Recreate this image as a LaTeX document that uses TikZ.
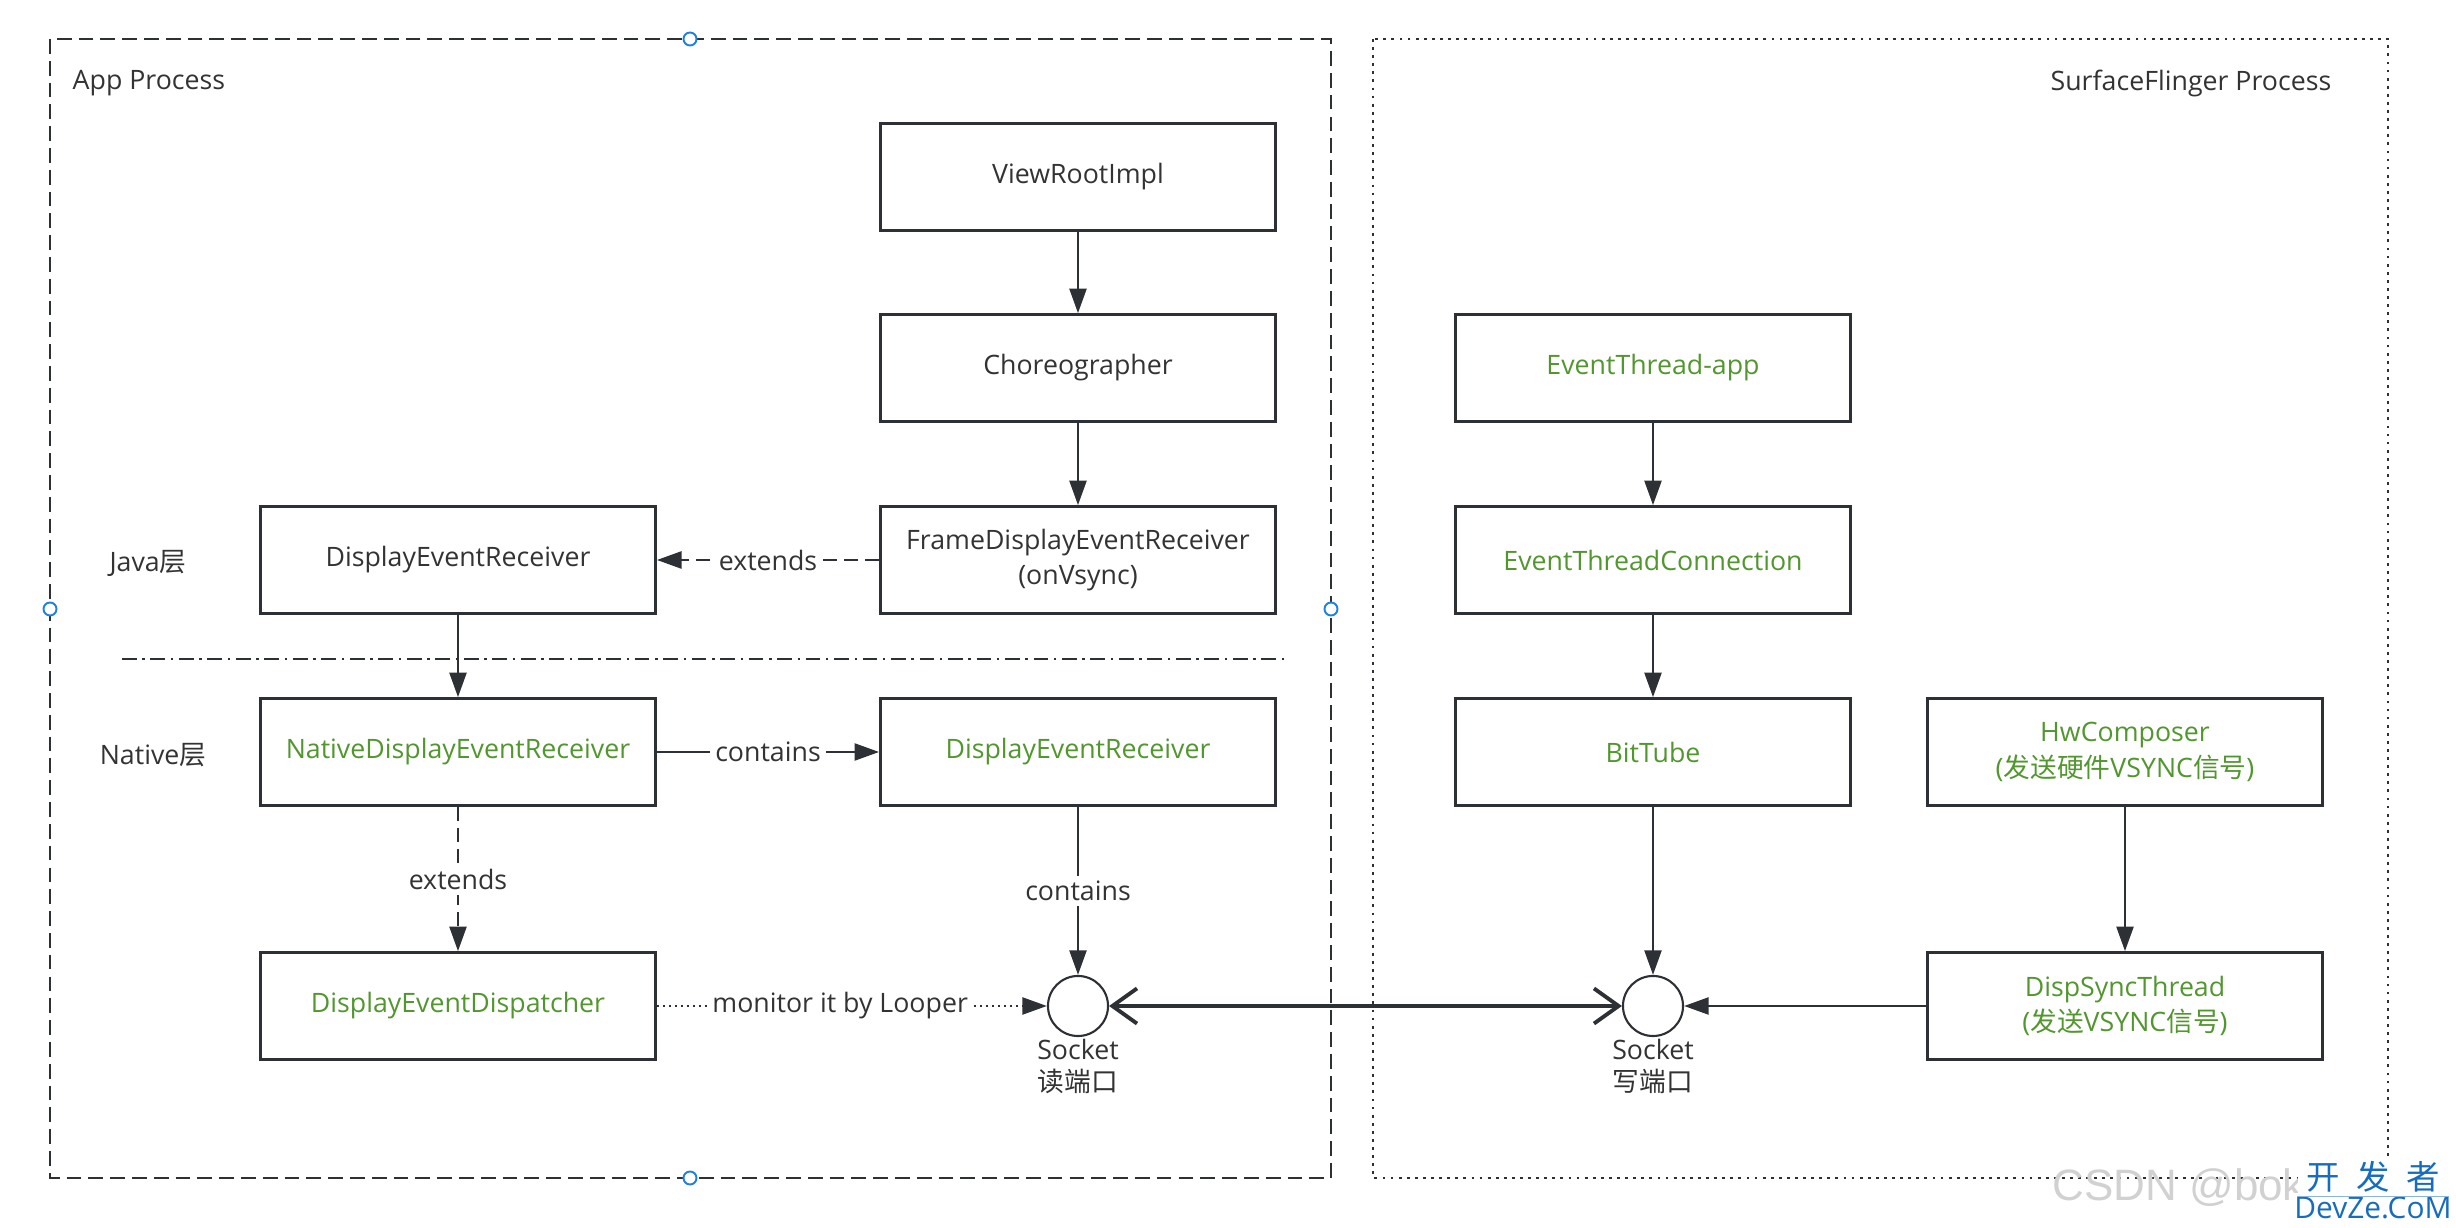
\documentclass[tikz,border=0pt]{standalone}
\usepackage{fontspec}
\setmainfont{Open Sans}
\newfontfamily\cjk{Noto Sans CJK SC}
\newfontfamily\wmfont{Liberation Sans}
\usepackage{xcolor}
\usetikzlibrary{arrows.meta}
\definecolor{txtgray}{RGB}{51,51,51}
\definecolor{nodegreen}{RGB}{82,150,46}
\definecolor{linegray}{RGB}{45,48,52}
\definecolor{handleblue}{RGB}{30,128,230}
\definecolor{markblue}{RGB}{22,108,190}

\begin{document}
\begin{tikzpicture}[x=0.01cm,y=-0.01cm,font=\fontsize{7.6}{10}\selectfont,text=txtgray,
  every node/.style={inner sep=0pt},
  cls/.style={draw=linegray,line width=0.72pt,minimum width=3.95cm,minimum height=1.07cm,align=center},
  gr/.style={text=nodegreen},
  sock/.style={circle,draw=linegray,line width=0.6pt,minimum size=0.6cm},
  arr/.style={draw=linegray,line width=0.8pt,-{Triangle[length=7pt,width=4.8pt]}},
  ext/.style={dash pattern=on 4pt off 2pt},
  mon/.style={dash pattern=on 0.7pt off 1pt},
  pipe/.style={draw=linegray,line width=1.1pt,{Straight Barb[length=7pt,width=10pt]}-{Straight Barb[length=7pt,width=10pt]}},
  lbl/.style={fill=white,inner sep=1.5pt},
  handle/.style={circle,draw=handleblue,fill=white,line width=0.55pt,minimum size=0.13cm},
  wmark/.style={fill=white,text=markblue,inner sep=1pt}]
\useasboundingbox (0,0) rectangle (2456,1228);
\draw [linegray,line width=0.8pt,dash pattern=on 4.2pt off 2pt] (50,39) rectangle (1331,1178);
\draw [linegray,line width=0.8pt,dash pattern=on 0.8pt off 1.5pt] (1373,39) rectangle (2388,1178);
\node [anchor=west] (applbl) at (72,83) {App Process};
\node [anchor=east] (sflbl) at (2332,83) {SurfaceFlinger Process};
\node (javalbl) at (148,563) {Java{\cjk 层}};
\node (nativelbl) at (153,755) {Native{\cjk 层}};
\draw [linegray,line width=0.8pt,dash pattern=on 4.2pt off 1.6pt on 0.7pt off 1.6pt] (122,659) -- (1285,659);
\node [cls] (vri) at (1078,177) {ViewRootImpl};
\node [cls] (chor) at (1078,368) {Choreographer};
\node [cls] (fder) at (1078,560) {FrameDisplayEventReceiver\\(onVsync)};
\node [cls] (jder) at (458,560) {DisplayEventReceiver};
\node [cls,gr] (nder) at (458,752) {NativeDisplayEventReceiver};
\node [cls,gr] (cder) at (1078,752) {DisplayEventReceiver};
\node [cls,gr] (ded) at (458,1006) {DisplayEventDispatcher};
\node [sock] (rsock) at (1078,1006) {};
\node [below=0.5pt,align=center] (rsocklbl) at (rsock.south) {Socket\\[-1pt]{\cjk 读端口}};
\node [cls,gr] (eta) at (1653,368) {EventThread-app};
\node [cls,gr] (etc) at (1653,560) {EventThreadConnection};
\node [cls,gr] (bt) at (1653,752) {BitTube};
\node [cls,gr] (hwc) at (2125,752) {HwComposer\\({\cjk 发送硬件}VSYNC{\cjk 信号})};
\node [cls,gr] (dst) at (2125,1006) {DispSyncThread\\({\cjk 发送}VSYNC{\cjk 信号})};
\node [sock] (wsock) at (1653,1006) {};
\node [below=0.5pt,align=center] (wsocklbl) at (wsock.south) {Socket\\[-1pt]{\cjk 写端口}};
\draw [arr] (vri) -- (chor);
\draw [arr] (chor) -- (fder);
\draw [arr,ext] (fder) -- node [lbl] {extends} (jder);
\draw [arr] (jder) -- (nder);
\draw [arr] (nder) -- node [lbl] {contains} (cder);
\draw [arr,ext] (nder) -- node [lbl] {extends} (ded);
\draw [arr] (cder) -- node [lbl] {contains} (rsock);
\draw [arr,mon] (ded) -- node [lbl,pos=0.47] {monitor it by Looper} (rsock);
\draw [pipe] (rsock) -- (wsock);
\draw [arr] (eta) -- (etc);
\draw [arr] (etc) -- (bt);
\draw [arr] (bt) -- (wsock);
\draw [arr] (hwc) -- (dst);
\draw [arr] (dst) -- (wsock);
\node [handle] (htop) at (690,39) {};
\node [handle] (hleft) at (50,609) {};
\node [handle] (hright) at (1331,609) {};
\node [handle] (hbottom) at (690,1178) {};
\node [anchor=west,text=black!18,font=\wmfont\fontsize{12.5}{12.5}\selectfont] (wmcsdn) at (2052,1188) {CSDN @bok};
\node [wmark,minimum width=1.5cm,minimum height=0.34cm,font=\cjk\fontsize{9.5}{10}\selectfont] (wmcn) at (2373,1177) {开\enspace 发\enspace 者};
\node [wmark,minimum width=1.5cm,font=\fontsize{8.5}{9}\selectfont] (wmsite) at (2373,1208) {DevZe.CoM};
\draw [markblue!50,line width=0.3pt] (wmcn.south west) -- (wmcn.south east);
\end{tikzpicture}
\end{document}
